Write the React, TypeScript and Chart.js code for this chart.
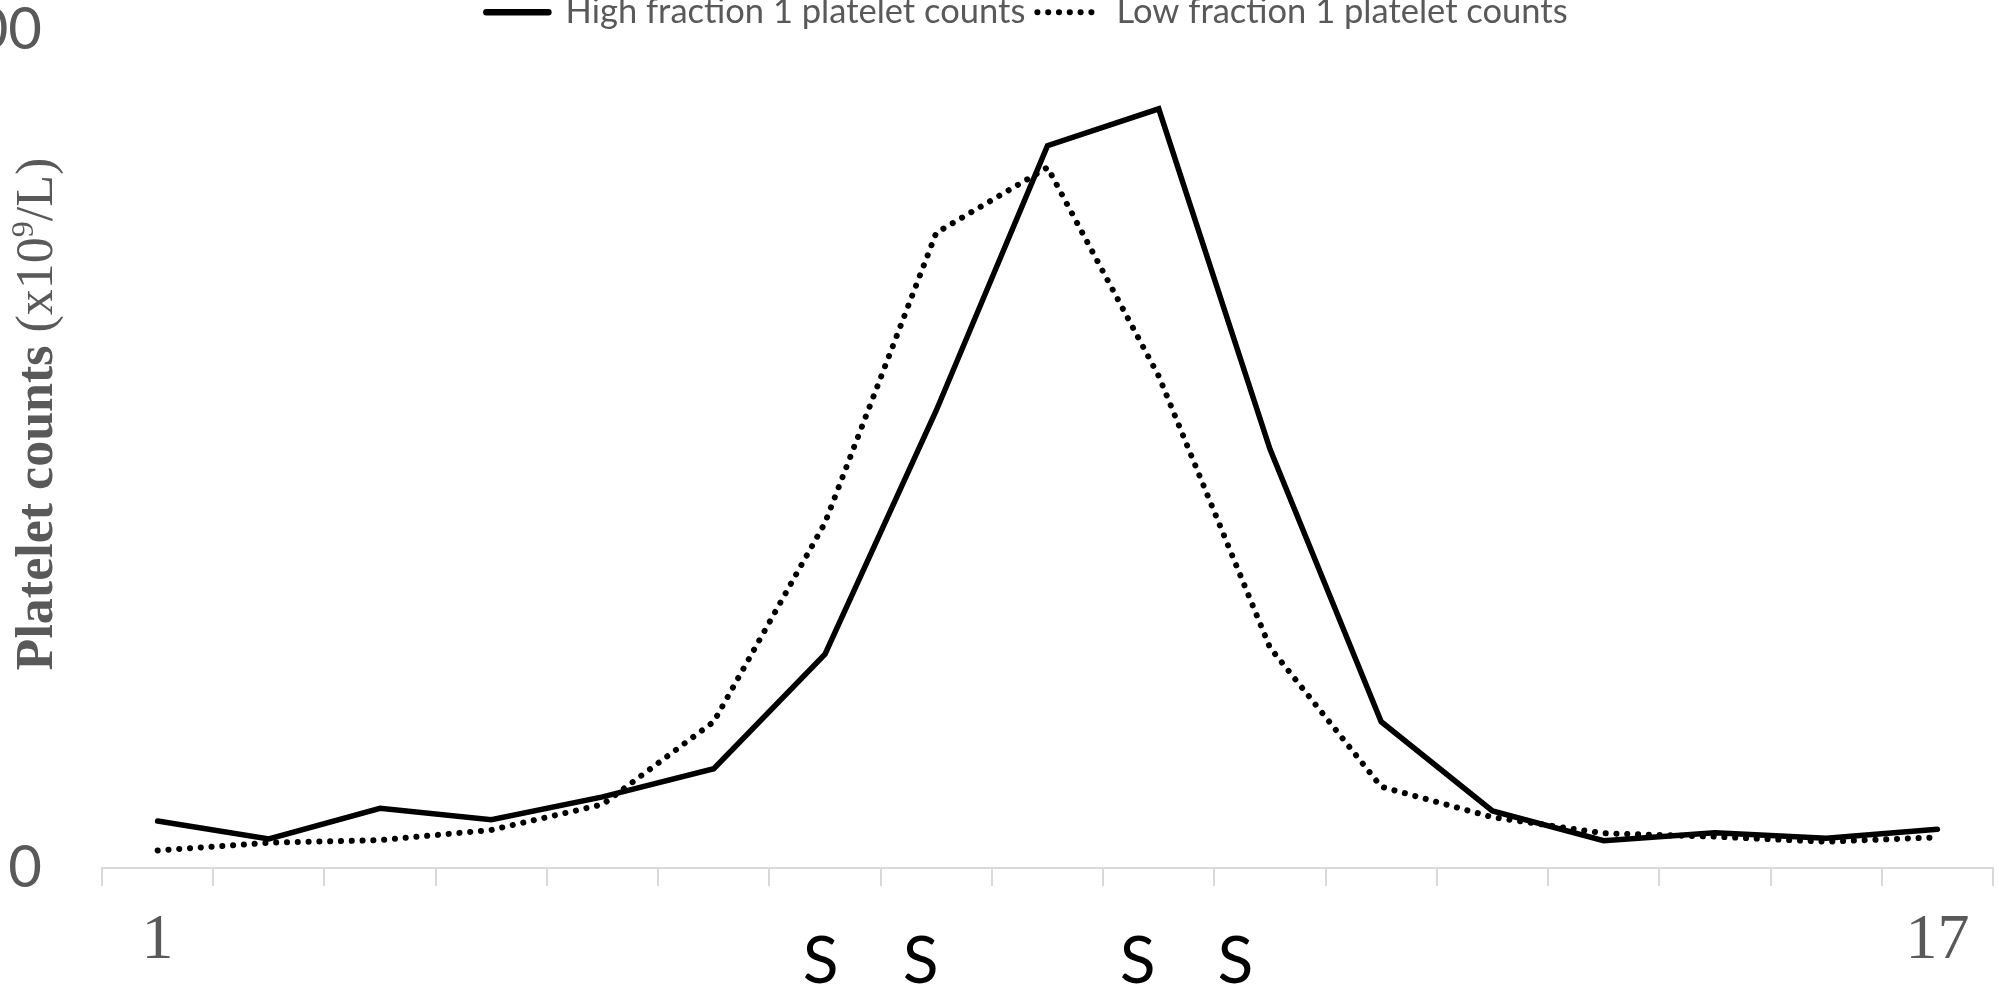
import React, { useEffect, useRef } from "react";
import { Chart, registerables } from "chart.js";

Chart.register(...registerables);

// ---- data ----
const categories = ["1", "2", "3", "4", "5", "6", "7", "8", "9", "10", "11", "12", "13", "14", "15", "16", "17"];
const xTickLabels = ["1", "", "", "", "", "", "", "", "", "", "", "", "", "", "", "", "17"];
const highFraction = [28, 17.3, 35.6, 28.8, 42.4, 59.2, 127.6, 273, 431, 453, 250, 87.3, 34, 16.3, 21, 17.7, 23.1];
const lowFraction = [10.5, 15.1, 16.6, 22.7, 37.9, 87.3, 206, 379, 418, 293.5, 131.5, 48.5, 30.3, 20.7, 18.7, 15.7, 18.3];
const yTicks = [0, 500];
const sampleMarks = ["S", "S", "S", "S"];
const sampleMarkAt = [5.96, 6.86, 8.81, 9.69];
const seriesNames = ["High fraction 1 platelet counts", "Low fraction 1 platelet counts"];
const yTitleParts = ["Platelet counts", " (x10", "9", "/L)"];

const GRAY = "#595959";
const SANS = "Lato, 'Open Sans', sans-serif";
const SERIF = "'Liberation Serif', 'Times New Roman', serif";
const DOTS = [0.1, 10.7];

const overlayPlugin = {
  id: "overlayText",
  afterDraw(chart: any) {
    const ctx = chart.ctx as CanvasRenderingContext2D;
    const xs = chart.scales.x;
    const area = chart.chartArea;
    ctx.save();
    ctx.fillStyle = "#000";
    ctx.font = `66px ${SANS}`;
    ctx.textAlign = "center";
    ctx.textBaseline = "alphabetic";
    sampleMarks.forEach((s, i) => {
      ctx.fillText(s, xs.getPixelForValue(sampleMarkAt[i]), area.bottom + 115);
    });
    ctx.restore();

    ctx.save();
    const size = 52;
    const fonts = [
      `bold ${size}px ${SERIF}`,
      `${size}px ${SERIF}`,
      `${Math.round(size * 0.62)}px ${SERIF}`,
      `${size}px ${SERIF}`,
    ];
    const rise = [0, 0, -size * 0.36, 0];
    const widths = yTitleParts.map((t, i) => {
      ctx.font = fonts[i];
      return ctx.measureText(t).width;
    });
    const total = widths.reduce((a, b) => a + b, 0);
    ctx.translate(area.left - 50, (area.top + area.bottom) / 2 - 35);
    ctx.rotate(-Math.PI / 2);
    ctx.fillStyle = GRAY;
    ctx.textAlign = "left";
    ctx.textBaseline = "alphabetic";
    let u = -total / 2;
    yTitleParts.forEach((t, i) => {
      ctx.font = fonts[i];
      ctx.fillText(t, u, rise[i]);
      u += widths[i];
    });
    ctx.restore();
  },
};

export default function App() {
  const canvasRef = useRef<HTMLCanvasElement | null>(null);

  useEffect(() => {
    if (!canvasRef.current) return;
    const chart = new Chart(canvasRef.current, {
      type: "line",
      data: {
        labels: categories,
        datasets: [
          {
            label: seriesNames[0],
            data: highFraction,
            borderColor: "#000",
            backgroundColor: "#000",
            borderWidth: 5.5,
            borderCapStyle: "round",
            borderJoinStyle: "miter",
            tension: 0,
            pointRadius: 0,
            fill: false,
          },
          {
            label: seriesNames[1],
            data: lowFraction,
            borderColor: "#000",
            backgroundColor: "#000",
            borderWidth: 6,
            borderDash: DOTS,
            borderCapStyle: "round",
            tension: 0,
            pointRadius: 0,
            fill: false,
          },
        ],
      },
      options: {
        animation: false,
        responsive: true,
        maintainAspectRatio: false,
        layout: { padding: 0 },
        plugins: {
          tooltip: { enabled: false },
          legend: {
            position: "top",
            maxHeight: 47,
            labels: {
              usePointStyle: true,
              pointStyle: "line",
              pointStyleWidth: 62,
              padding: 12,
              color: GRAY,
              font: { family: SANS, size: 34.5 },
              generateLabels: (c: any) =>
                Chart.defaults.plugins.legend.labels.generateLabels(c).map((l: any, i: number) => ({
                  ...l,
                  lineWidth: i === 0 ? 6.5 : 6,
                  lineCap: "round",
                  lineDash: c.data.datasets[i].borderDash || [],
                  strokeStyle: "#000",
                })),
            },
          },
        },
        scales: {
          x: {
            type: "category",
            offset: true,
            grid: {
              offset: true,
              drawOnChartArea: false,
              drawTicks: true,
              tickLength: 18,
              color: "#d9d9d9",
              lineWidth: 2,
            },
            border: { display: true, color: "#d9d9d9", width: 2 },
            ticks: {
              autoSkip: false,
              maxRotation: 0,
              minRotation: 0,
              padding: 17,
              color: GRAY,
              font: { family: SERIF, size: 64 },
              callback: (_v: any, i: number) => xTickLabels[i],
            },
            afterFit: (s: any) => {
              s.height = 120;
            },
          },
          y: {
            min: 0,
            max: 500,
            grid: { display: false, drawTicks: true, tickLength: 58 },
            border: { display: false },
            ticks: {
              padding: 2,
              color: GRAY,
              font: { family: SANS, size: 58 },
            },
            afterBuildTicks: (s: any) => {
              s.ticks = yTicks.map((v) => ({ value: v }));
            },
            afterFit: (s: any) => {
              s.width = 102;
            },
          },
          spacer: {
            type: "linear",
            position: "right",
            display: true,
            grid: { display: false, drawTicks: false },
            border: { display: false },
            ticks: { display: false },
            afterFit: (s: any) => {
              s.width = 61;
            },
          },
        },
      },
      plugins: [overlayPlugin],
    });
    return () => chart.destroy();
  }, []);

  return (
    <div style={{ position: "absolute", left: 0, top: 0, width: 1999, height: 993, overflow: "hidden" }}>
      <div style={{ position: "absolute", left: 0, top: -17, width: 2054, height: 1005 }}>
        <canvas ref={canvasRef} />
      </div>
    </div>
  );
}
